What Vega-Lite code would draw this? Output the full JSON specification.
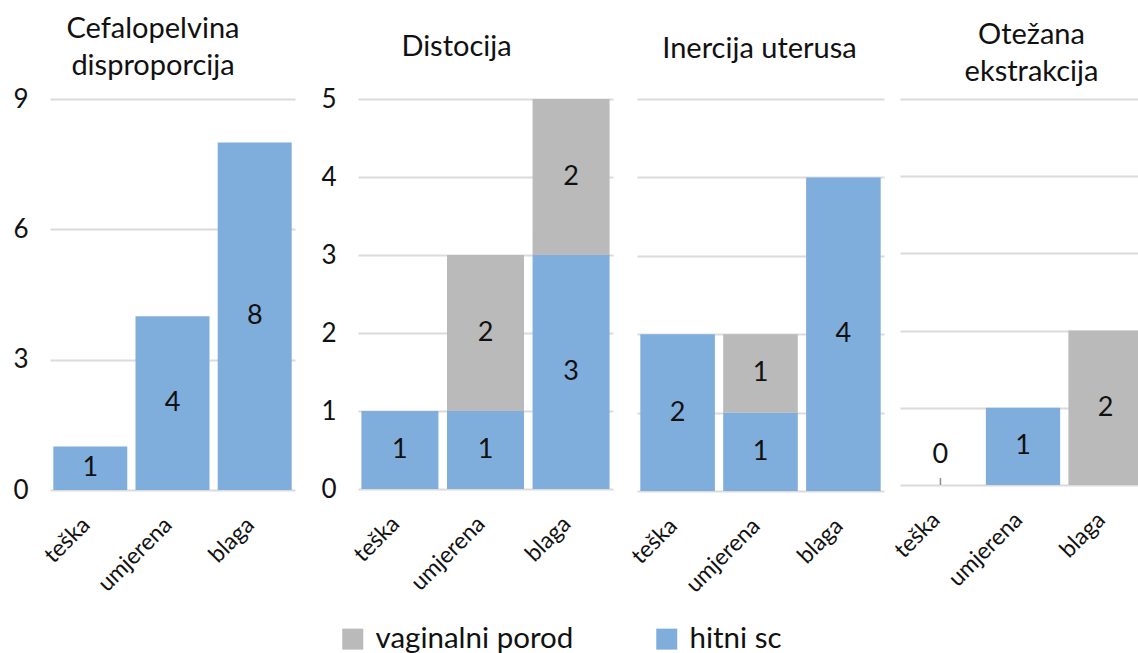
{
  "$schema": "https://vega.github.io/schema/vega-lite/v6.json",
  "background": "white",
  "padding": 0,
  "datasets": {
    "d": [
      {"p": "P1", "c": "teška", "s": "hitni sc", "v": 1},
      {"p": "P1", "c": "umjerena", "s": "hitni sc", "v": 4},
      {"p": "P1", "c": "blaga", "s": "hitni sc", "v": 8},
      {"p": "P2", "c": "teška", "s": "hitni sc", "v": 1},
      {"p": "P2", "c": "umjerena", "s": "hitni sc", "v": 1},
      {"p": "P2", "c": "umjerena", "s": "vaginalni porod", "v": 2},
      {"p": "P2", "c": "blaga", "s": "hitni sc", "v": 3},
      {"p": "P2", "c": "blaga", "s": "vaginalni porod", "v": 2},
      {"p": "P3", "c": "teška", "s": "hitni sc", "v": 2},
      {"p": "P3", "c": "umjerena", "s": "hitni sc", "v": 1},
      {"p": "P3", "c": "umjerena", "s": "vaginalni porod", "v": 1},
      {"p": "P3", "c": "blaga", "s": "hitni sc", "v": 4},
      {"p": "P4", "c": "teška", "s": "hitni sc", "v": 0},
      {"p": "P4", "c": "umjerena", "s": "hitni sc", "v": 1},
      {"p": "P4", "c": "blaga", "s": "vaginalni porod", "v": 2}
    ]
  },
  "data": {"name": "d"},
  "spacing": 0,
  "align": "each",
  "resolve": {"scale": {"x": "independent", "y": "independent", "color": "shared"}, "legend": {"color": "shared"}},
  "hconcat": [
    {
      "width": 245, "height": 391,
      "layer": [
        {
          "transform": [{"filter": {"field": "p", "equal": "P1"}}],
          "mark": {"type": "bar"},
          "encoding": {
            "x": {"field": "c", "type": "nominal", "sort": ["teška", "umjerena", "blaga"], "scale": {"paddingInner": 0.1, "paddingOuter": 0.04},
                  "axis": {"title": ".", "titleX": 122, "titleY": -490}},
            "y": {"field": "v", "type": "quantitative", "stack": "zero", "scale": {"domain": [0, 9], "nice": false},
                  "axis": {"values": [0, 3, 6, 9], "format": "d", "title": ["Cefalopelvina", "disproporcija"], "titleX": 102.5, "titleY": -62, "minExtent": 50, "maxExtent": 50}},
            "color": {"field": "s", "type": "nominal", "scale": {"domain": ["vaginalni porod", "hitni sc"], "range": ["#BABABA", "#7FAEDC"]},
                      "legend": {"orient": "none", "legendX": 288, "legendY": 525, "direction": "horizontal", "title": null, "symbolType": "square", "symbolSize": 441, "symbolStrokeWidth": 0, "symbolOpacity": 1, "labelFontSize": 29.5, "labelOffset": 8, "columnPadding": 78, "labelLimit": 400, "labelColor": "#111"}},
            "order": {"field": "s", "sort": "ascending"}
          }
        },
        {
          "transform": [
            {"filter": {"field": "p", "equal": "P1"}},
            {"filter": {"field": "v", "gt": 0}},
            {"stack": "v", "groupby": ["c"], "sort": [{"field": "s", "order": "ascending"}], "as": ["v0", "v1"]},
            {"fold": ["v0", "v1"], "as": ["k", "pos"]}
          ],
          "mark": {"type": "text"},
          "encoding": {
            "x": {"field": "c", "type": "nominal", "sort": ["teška", "umjerena", "blaga"], "scale": {"paddingInner": 0.1, "paddingOuter": 0.04}},
            "y": {"field": "pos", "type": "quantitative", "aggregate": "mean", "stack": null, "scale": {"domain": [0, 9], "nice": false}},
            "text": {"field": "v", "type": "quantitative", "aggregate": "max"},
            "detail": {"field": "s"}
          }
        }
      ]
    },
    {
      "width": 255, "height": 390,
      "layer": [
        {
          "transform": [{"filter": {"field": "p", "equal": "P2"}}],
          "mark": {"type": "bar"},
          "encoding": {
            "x": {"field": "c", "type": "nominal", "sort": ["teška", "umjerena", "blaga"], "scale": {"paddingInner": 0.1, "paddingOuter": 0.04},
                  "axis": {"title": ".", "titleX": 127, "titleY": -489}},
            "y": {"field": "v", "type": "quantitative", "stack": "zero", "scale": {"domain": [0, 5], "nice": false},
                  "axis": {"values": [0, 1, 2, 3, 4, 5], "format": "d", "title": "Distocija", "titleX": 98, "titleY": -44, "minExtent": 63, "maxExtent": 63}},
            "color": {"field": "s", "type": "nominal", "scale": {"domain": ["vaginalni porod", "hitni sc"], "range": ["#BABABA", "#7FAEDC"]}, "legend": null},
            "order": {"field": "s", "sort": "ascending"}
          }
        },
        {
          "transform": [
            {"filter": {"field": "p", "equal": "P2"}},
            {"filter": {"field": "v", "gt": 0}},
            {"stack": "v", "groupby": ["c"], "sort": [{"field": "s", "order": "ascending"}], "as": ["v0", "v1"]},
            {"fold": ["v0", "v1"], "as": ["k", "pos"]}
          ],
          "mark": {"type": "text"},
          "encoding": {
            "x": {"field": "c", "type": "nominal", "sort": ["teška", "umjerena", "blaga"], "scale": {"paddingInner": 0.1, "paddingOuter": 0.04}},
            "y": {"field": "pos", "type": "quantitative", "aggregate": "mean", "stack": null, "scale": {"domain": [0, 5], "nice": false}},
            "text": {"field": "v", "type": "quantitative", "aggregate": "max"},
            "detail": {"field": "s"}
          }
        }
      ]
    },
    {
      "width": 247, "height": 392,
      "layer": [
        {
          "transform": [{"filter": {"field": "p", "equal": "P3"}}],
          "mark": {"type": "bar"},
          "encoding": {
            "x": {"field": "c", "type": "nominal", "sort": ["teška", "umjerena", "blaga"], "scale": {"paddingInner": 0.1, "paddingOuter": 0.04},
                  "axis": {"title": ".", "titleX": 123, "titleY": -489}},
            "y": {"field": "v", "type": "quantitative", "stack": "zero", "scale": {"domain": [0, 5], "nice": false},
                  "axis": {"values": [0, 1, 2, 3, 4, 5], "labels": false, "title": "Inercija uterusa", "titleX": 122, "titleY": -42, "minExtent": 24, "maxExtent": 24}},
            "color": {"field": "s", "type": "nominal", "scale": {"domain": ["vaginalni porod", "hitni sc"], "range": ["#BABABA", "#7FAEDC"]}, "legend": null},
            "order": {"field": "s", "sort": "ascending"}
          }
        },
        {
          "transform": [
            {"filter": {"field": "p", "equal": "P3"}},
            {"filter": {"field": "v", "gt": 0}},
            {"stack": "v", "groupby": ["c"], "sort": [{"field": "s", "order": "ascending"}], "as": ["v0", "v1"]},
            {"fold": ["v0", "v1"], "as": ["k", "pos"]}
          ],
          "mark": {"type": "text"},
          "encoding": {
            "x": {"field": "c", "type": "nominal", "sort": ["teška", "umjerena", "blaga"], "scale": {"paddingInner": 0.1, "paddingOuter": 0.04}},
            "y": {"field": "pos", "type": "quantitative", "aggregate": "mean", "stack": null, "scale": {"domain": [0, 5], "nice": false}},
            "text": {"field": "v", "type": "quantitative", "aggregate": "max"},
            "detail": {"field": "s"}
          }
        }
      ]
    },
    {
      "width": 238, "height": 386,
      "layer": [
        {
          "transform": [{"filter": {"field": "p", "equal": "P4"}}],
          "mark": {"type": "bar", "clip": true},
          "encoding": {
            "x": {"field": "c", "type": "nominal", "sort": ["teška", "umjerena", "blaga"], "scale": {"paddingInner": 0.1, "paddingOuter": 0.04, "range": [0, 246]},
                  "axis": {"title": ".", "titleX": 119, "titleY": -485}},
            "y": {"field": "v", "type": "quantitative", "stack": "zero", "scale": {"domain": [0, 5], "nice": false},
                  "axis": {"values": [0, 1, 2, 3, 4, 5], "labels": false, "title": ["Otežana", "ekstrakcija"], "titleX": 131, "titleY": -56, "minExtent": 16, "maxExtent": 16}},
            "color": {"field": "s", "type": "nominal", "scale": {"domain": ["vaginalni porod", "hitni sc"], "range": ["#BABABA", "#7FAEDC"]}, "legend": null},
            "order": {"field": "s", "sort": "ascending"}
          }
        },
        {
          "transform": [
            {"filter": {"field": "p", "equal": "P4"}},
            {"filter": {"field": "v", "gt": 0}},
            {"stack": "v", "groupby": ["c"], "sort": [{"field": "s", "order": "ascending"}], "as": ["v0", "v1"]},
            {"fold": ["v0", "v1"], "as": ["k", "pos"]}
          ],
          "mark": {"type": "text"},
          "encoding": {
            "x": {"field": "c", "type": "nominal", "sort": ["teška", "umjerena", "blaga"], "scale": {"paddingInner": 0.1, "paddingOuter": 0.04, "range": [0, 246]}},
            "y": {"field": "pos", "type": "quantitative", "aggregate": "mean", "stack": null, "scale": {"domain": [0, 5], "nice": false}},
            "text": {"field": "v", "type": "quantitative", "aggregate": "max"},
            "detail": {"field": "s"}
          }
        },
        {
          "transform": [{"filter": {"field": "p", "equal": "P4"}}, {"filter": {"field": "v", "equal": 0}}],
          "mark": {"type": "text", "dy": -30},
          "encoding": {
            "x": {"field": "c", "type": "nominal", "sort": ["teška", "umjerena", "blaga"], "scale": {"paddingInner": 0.1, "paddingOuter": 0.04, "range": [0, 246]}},
            "y": {"field": "v", "type": "quantitative", "stack": null, "scale": {"domain": [0, 5], "nice": false}},
            "text": {"field": "v", "type": "quantitative"}
          }
        },
        {
          "transform": [{"filter": {"field": "p", "equal": "P4"}}, {"filter": {"field": "v", "equal": 0}}],
          "mark": {"type": "rule", "color": "#8c8c8c", "strokeWidth": 1.5},
          "encoding": {
            "x": {"field": "c", "type": "nominal", "sort": ["teška", "umjerena", "blaga"], "scale": {"paddingInner": 0.1, "paddingOuter": 0.04, "range": [0, 246]}},
            "y": {"field": "v", "type": "quantitative", "stack": null, "scale": {"domain": [0, 5], "nice": false}},
            "y2": {"datum": 0.09}
          }
        }
      ]
    }
  ],
  "config": {
    "font": "Lato",
    "view": {"stroke": null},
    "text": {"font": "Lato", "fontSize": 27, "color": "#111"},
    "legend": {"labelFont": "Lato"},
    "axis": {
      "labelFont": "Lato", "labelColor": "#111", "titleFont": "Lato", "titleFontWeight": "normal", "titleColor": "#111",
      "ticks": false, "domain": false, "gridColor": "#bdbdbd", "gridOpacity": 0.55, "gridWidth": 1.8
    },
    "axisX": {"labelAngle": -45, "labelFontSize": 23, "labelPadding": 31, "labelBaseline": "middle", "labelAlign": "right", "labelOffset": -4, "grid": false, "titleOpacity": 0, "titleBaseline": "top", "titleFontSize": 10},
    "axisY": {"labelFontSize": 26, "labelPadding": 22, "titleAngle": 0, "titleAlign": "center", "titleBaseline": "alphabetic", "titleLineHeight": 37, "titleFontSize": 29, "grid": true, "zindex": 1}
  }
}
